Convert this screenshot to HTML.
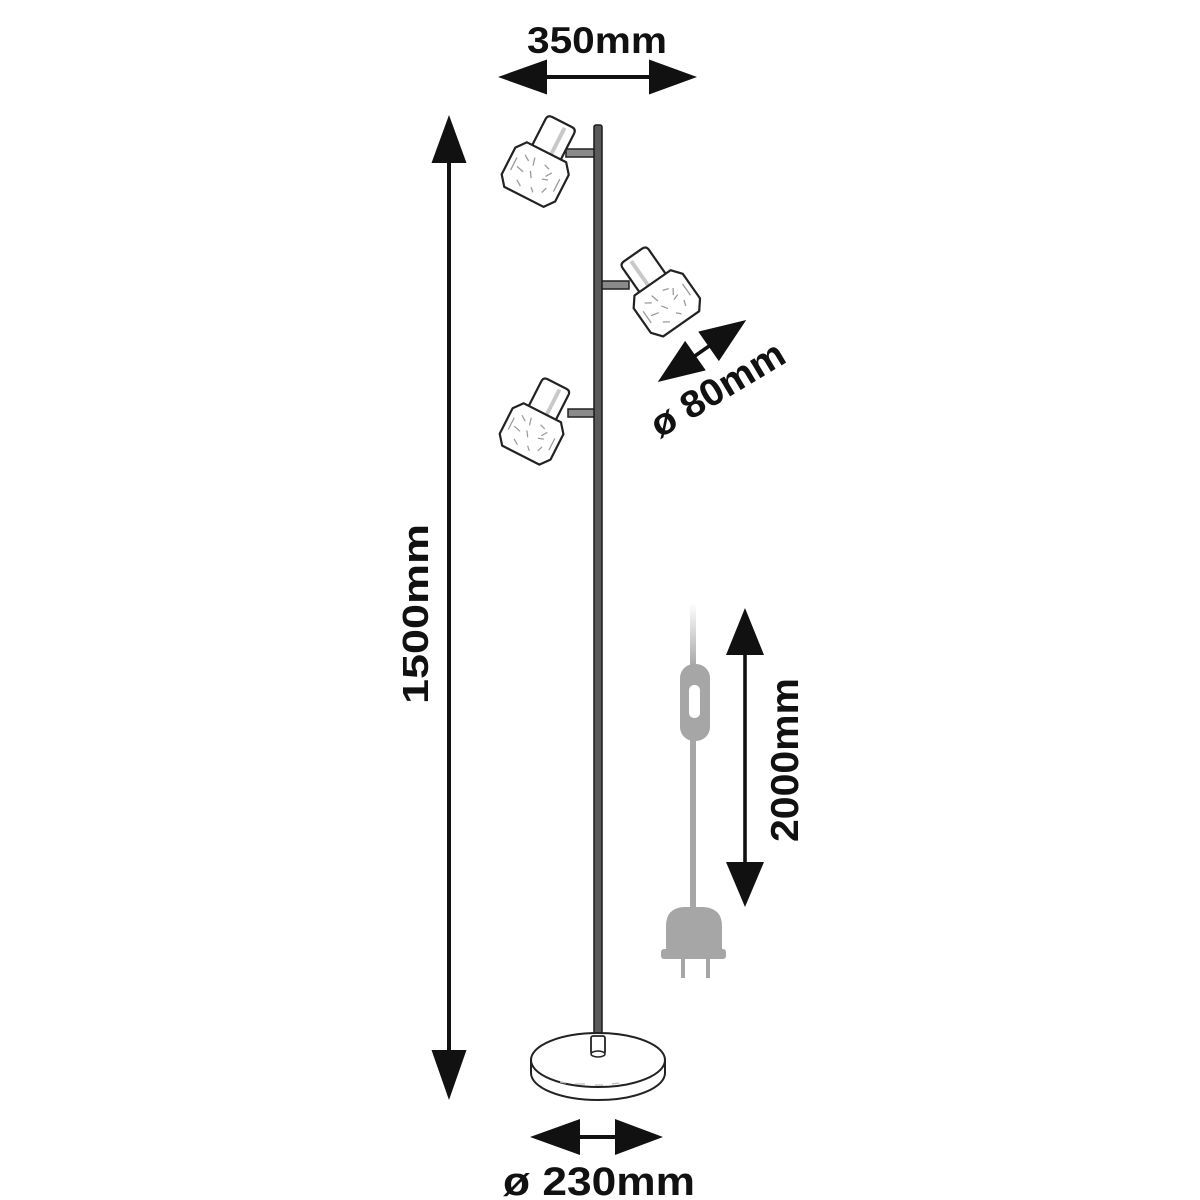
<!DOCTYPE html>
<html>
<head>
<meta charset="utf-8">
<style>
html,body{margin:0;padding:0;background:#fff;}
svg{display:block;}
text{font-family:"Liberation Sans",sans-serif;font-weight:bold;fill:#111;}
</style>
</head>
<body>
<svg width="1200" height="1200" viewBox="0 0 1200 1200" xmlns="http://www.w3.org/2000/svg">
<defs>
<linearGradient id="cordfade" x1="0" y1="0" x2="0" y2="1">
<stop offset="0" stop-color="#ffffff"/>
<stop offset="1" stop-color="#a6a6a6"/>
</linearGradient>
</defs>
<rect width="1200" height="1200" fill="#fff"/>

<!-- 350mm -->
<text x="597" y="53" font-size="37" text-anchor="middle" textLength="140" lengthAdjust="spacingAndGlyphs">350mm</text>
<rect x="545" y="75" width="106" height="4" fill="#111"/>
<polygon points="498,77 547,59.5 547,94.5" fill="#111"/>
<polygon points="697,77 649,59.5 649,94.5" fill="#111"/>

<!-- 1500mm -->
<rect x="447" y="160" width="4" height="893" fill="#111"/>
<polygon points="449,115 431.5,163 466.5,163" fill="#111"/>
<polygon points="449,1100 431.5,1050 466.5,1050" fill="#111"/>
<text transform="translate(428,614) rotate(-90)" x="0" y="0" font-size="36" text-anchor="middle" textLength="180" lengthAdjust="spacingAndGlyphs">1500mm</text>

<!-- arms -->
<rect x="566" y="149" width="32" height="8" fill="#8a8a8a" stroke="#222" stroke-width="1.5"/>
<rect x="597" y="281" width="32" height="8" fill="#8a8a8a" stroke="#222" stroke-width="1.5"/>
<rect x="568" y="409" width="30" height="8" fill="#8a8a8a" stroke="#222" stroke-width="1.5"/>

<!-- top lamp -->
<g transform="translate(562,122) rotate(27)" stroke-linejoin="round">
<path d="M-16,42 L-16,5 Q-16,0 -11,0 L11,0 Q16,0 16,5 L16,42" fill="#fff" stroke="#222" stroke-width="2.2"/>
<line x1="5" y1="4" x2="5" y2="36" stroke="#c8c8c8" stroke-width="4"/>
<polygon points="-22,34 22,34 30,44 30,74 22,84 -22,84 -30,74 -30,44" fill="#fff" stroke="#222" stroke-width="2.2"/>
<path d="M-18,46 l6,4 M-8,44 l2,8 M4,46 l6,2 M14,50 l-4,6 M-20,60 l8,2 M-6,58 l4,6 M8,60 l6,-2 M-14,72 l6,4 M2,72 l4,4 M16,66 l-2,6 M-24,52 l0,14 M24,52 l0,14" stroke="#9a9a9a" stroke-width="1.3" fill="none"/>
</g>

<!-- middle lamp -->
<g transform="translate(633,255) rotate(-35)" stroke-linejoin="round">
<path d="M-16,42 L-16,5 Q-16,0 -11,0 L11,0 Q16,0 16,5 L16,42" fill="#fff" stroke="#222" stroke-width="2.2"/>
<line x1="-5" y1="4" x2="-5" y2="36" stroke="#c8c8c8" stroke-width="4"/>
<polygon points="-22,34 22,34 30,44 30,74 22,84 -22,84 -30,74 -30,44" fill="#fff" stroke="#222" stroke-width="2.2"/>
<path d="M-18,46 l6,4 M-8,44 l2,8 M4,46 l6,2 M14,50 l-4,6 M-20,60 l8,2 M-6,58 l4,6 M8,60 l6,-2 M-14,72 l6,4 M2,72 l4,4 M16,66 l-2,6 M-24,52 l0,14 M24,52 l0,14" stroke="#9a9a9a" stroke-width="1.3" fill="none"/>
</g>

<!-- bottom lamp -->
<g transform="translate(557,384) rotate(27) scale(0.95)" stroke-linejoin="round">
<path d="M-16,42 L-16,5 Q-16,0 -11,0 L11,0 Q16,0 16,5 L16,42" fill="#fff" stroke="#222" stroke-width="2.3"/>
<line x1="5" y1="4" x2="5" y2="36" stroke="#c8c8c8" stroke-width="4"/>
<polygon points="-22,34 22,34 30,44 30,74 22,84 -22,84 -30,74 -30,44" fill="#fff" stroke="#222" stroke-width="2.3"/>
<path d="M-18,46 l6,4 M-8,44 l2,8 M4,46 l6,2 M14,50 l-4,6 M-20,60 l8,2 M-6,58 l4,6 M8,60 l6,-2 M-14,72 l6,4 M2,72 l4,4 M16,66 l-2,6 M-24,52 l0,14 M24,52 l0,14" stroke="#9a9a9a" stroke-width="1.3" fill="none"/>
</g>

<!-- pole -->
<rect x="594" y="125" width="8" height="915" rx="2" fill="#5a5a5a" stroke="#1a1a1a" stroke-width="1.5"/>

<!-- base -->
<path d="M531,1060 L531,1073 A67,27 0 0 0 665,1073 L665,1060 Z" fill="#fff" stroke="#222" stroke-width="2"/>
<ellipse cx="598" cy="1060" rx="67" ry="27" fill="#fff" stroke="#222" stroke-width="2"/>
<path d="M560,1082 l6,1 M575,1084 l10,0 M595,1085 l8,0 M612,1084 l7,-1" stroke="#bbb" stroke-width="1.2"/>
<rect x="591" y="1036" width="14" height="18" rx="2" fill="#fff" stroke="#222" stroke-width="1.8"/>
<ellipse cx="598" cy="1054" rx="7" ry="3" fill="#fff" stroke="#222" stroke-width="1.5"/>

<!-- 230mm -->
<rect x="578" y="1135" width="39" height="4" fill="#111"/>
<polygon points="530,1137 580,1119 580,1155" fill="#111"/>
<polygon points="663,1137 615,1119 615,1155" fill="#111"/>
<text x="599" y="1195" font-size="40" text-anchor="middle" textLength="192" lengthAdjust="spacingAndGlyphs">ø 230mm</text>

<!-- 80mm -->
<g transform="translate(702,351) rotate(-35)">
<rect x="-10" y="-1.8" width="20" height="3.6" fill="#111"/>
<polygon points="-54,0 -8,-18 -8,18" fill="#111"/>
<polygon points="54,0 8,-18 8,18" fill="#111"/>
</g>
<text transform="translate(724,400) rotate(-31)" x="0" y="0" font-size="38" text-anchor="middle" textLength="150" lengthAdjust="spacingAndGlyphs">ø 80mm</text>

<!-- cord / switch / plug -->
<rect x="690" y="603" width="6" height="64" fill="url(#cordfade)"/>
<rect x="680" y="664" width="30" height="77" rx="14" fill="#a6a6a6"/>
<rect x="689" y="685" width="11" height="33" rx="5" fill="#fff"/>
<rect x="690" y="739" width="6" height="172" fill="#a6a6a6"/>
<path d="M666,952 L666,926 Q666,908 684,907 L703,907 Q722,908 722,926 L722,952 Z" fill="#a6a6a6"/>
<rect x="661" y="949" width="65" height="10" rx="3" fill="#a6a6a6"/>
<rect x="681" y="957" width="4" height="21" fill="#a6a6a6"/>
<rect x="706" y="957" width="4" height="21" fill="#a6a6a6"/>

<!-- 2000mm -->
<rect x="743.2" y="652" width="3.6" height="213" fill="#111"/>
<polygon points="745,608 726,655 764,655" fill="#111"/>
<polygon points="745,907 726,862 764,862" fill="#111"/>
<text transform="translate(798,760) rotate(-90)" x="0" y="0" font-size="39" text-anchor="middle" textLength="164" lengthAdjust="spacingAndGlyphs">2000mm</text>
</svg>
</body>
</html>
